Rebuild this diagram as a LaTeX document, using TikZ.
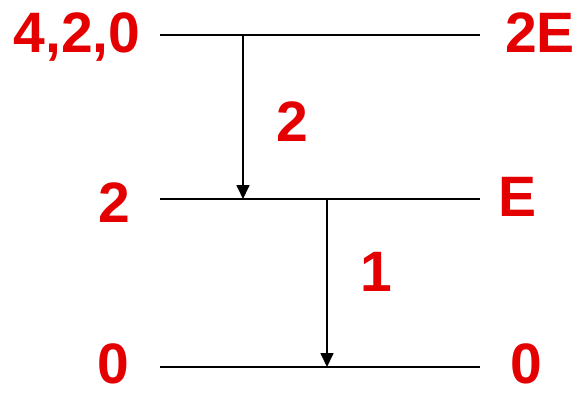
\documentclass[tikz,border=0pt]{standalone}
\usepackage{fontspec}
\setmainfont{Liberation Sans}
\usetikzlibrary{arrows.meta}
\definecolor{lvlred}{RGB}{228,0,0}
\tikzset{
  lvl/.style={line width=1.7pt, black},
  trans/.style={line width=1.7pt, black, -{Triangle[width=13pt,length=14pt]}},
  lab/.style={text=lvlred, font=\fontsize{57}{60}\selectfont\bfseries, anchor=base, inner sep=0pt}
}
\begin{document}
\begin{tikzpicture}[x=1pt,y=-1pt]
  \useasboundingbox (0,0) rectangle (578,394);
  % energy levels
  \coordinate (t1) at (160,35);  \coordinate (t2) at (480,35);
  \coordinate (m1) at (160,199); \coordinate (m2) at (480,199);
  \coordinate (b1) at (160,367); \coordinate (b2) at (480,367);
  \draw[lvl] (t1) -- (t2);
  \draw[lvl] (m1) -- (m2);
  \draw[lvl] (b1) -- (b2);
  % transitions
  \coordinate (s1) at (243,35);  \coordinate (e1) at (243,199);
  \coordinate (s2) at (327,199); \coordinate (e2) at (327,367);
  \draw[trans] (s1) -- (e1);
  \draw[trans] (s2) -- (e2);
  % labels on the left
  \node[lab] (ltop) at (77,52) {4,2,0};
  \node[lab] (lmid) at (114.5,222) {2};
  \node[lab] (lbot) at (113,383) {0};
  % labels on the right
  \node[lab] (rtop) at (540,52) {2E};
  \node[lab] (rmid) at (518,216) {E};
  \node[lab] (rbot) at (526,383) {0};
  % transition labels
  \node[lab] (n2) at (292,141) {2};
  \node[lab] (n1) at (376,291) {1};
\end{tikzpicture}
\end{document}
